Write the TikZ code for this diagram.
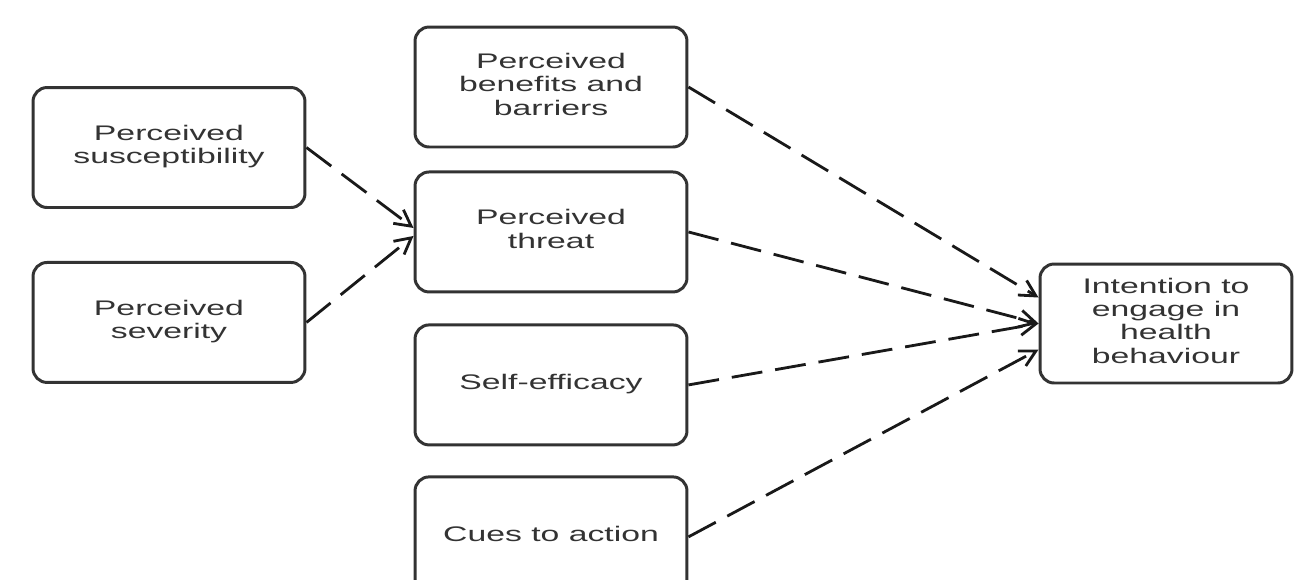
\documentclass[tikz,border=0pt]{standalone}
\usepackage{fontspec}
\usepackage{graphicx}
\setmainfont{Liberation Sans}
\usetikzlibrary{arrows.meta,positioning}
\newcommand\widetext[1]{\scalebox{1.6}[1]{\begin{tabular}{@{}c@{}}#1\end{tabular}}}

\begin{document}
\begin{tikzpicture}[x=0.02cm, y=-0.02cm, >={Straight Barb[length=3.2mm, width=3.4mm]},
    font=\fontsize{12}{13.3}\selectfont]
    \tikzstyle{factor} = [rectangle, draw=black!80, line width=1.7pt, rounded corners=8pt, text=black!80,
                          align=center, minimum width=5.44cm, minimum height=2.4cm, inner sep=2pt]
    \tikzstyle{link}   = [->, line width=1.6pt, black!90, dash pattern=on 0.62cm off 0.26cm]

    \clip (0,0) rectangle (1295,579);
    \fill[white] (0,0) rectangle (1295,579);

    \node[factor]                     (sus) at (169,147.5) {\widetext{Perceived\\susceptibility}};
    \node[factor, below=1.04cm of sus] (sev)               {\widetext{Perceived\\severity}};

    \node[factor]                      (ben) at (551,87) {\widetext{Perceived\\benefits and\\barriers}};
    \node[factor, below=0.44cm of ben]  (thr)             {\widetext{Perceived\\threat}};
    \node[factor, below=0.6cm of thr]   (eff)             {\widetext{Self-efficacy}};
    \node[factor, below=0.58cm of eff]  (cue)             {\widetext{Cues to action}};

    \node[factor, minimum width=5.04cm, minimum height=2.38cm] (int) at (1166,323.5)
         {\widetext{Intention to\\engage in\\health\\behaviour}};

    \draw[link] (sus.east) -- ([yshift=0.08cm]thr.west);
    \draw[link] (sev.east) -- ([yshift=-0.08cm]thr.west);

    \draw[link] (ben.east) -- ([yshift=0.52cm]int.west);
    \draw[link] (thr.east) -- (int.west);
    \draw[link] (eff.east) -- (int.west);
    \draw[link] (cue.east) -- ([yshift=-0.52cm]int.west);
\end{tikzpicture}
\end{document}
